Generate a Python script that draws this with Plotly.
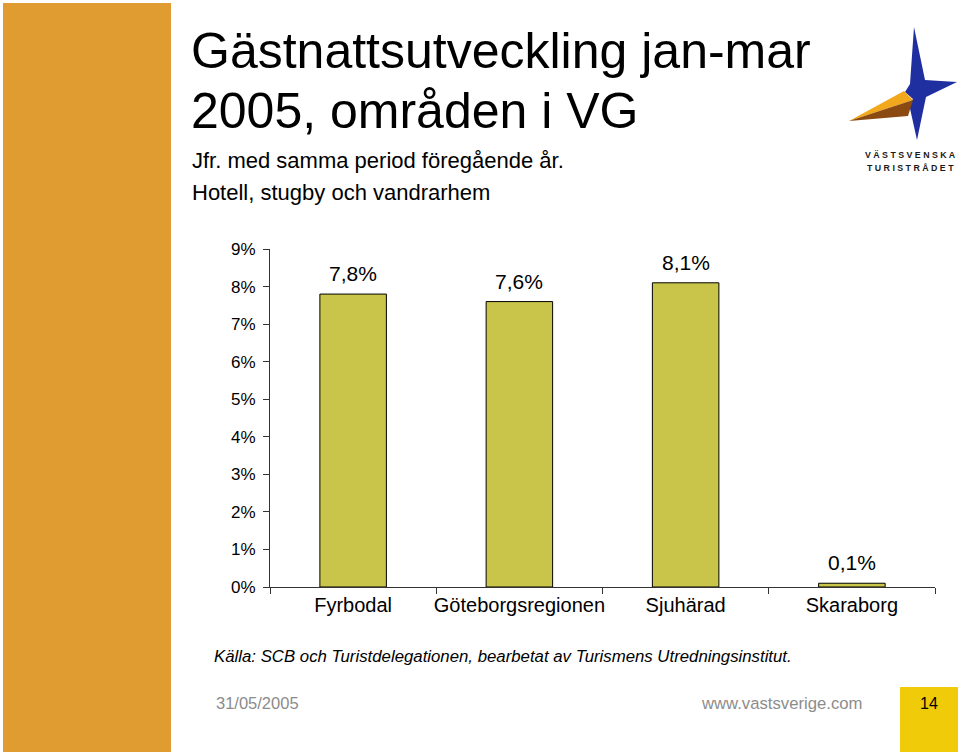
import plotly.graph_objects as go

# ---- data ----
categories = ["Fyrbodal", "Göteborgsregionen", "Sjuhärad", "Skaraborg"]
values = [7.8, 7.6, 8.1, 0.1]
y_ticks = [0, 1, 2, 3, 4, 5, 6, 7, 8, 9]
y_tick_text = [f"{t}%" for t in y_ticks]

title_lines = ["Gästnattsutveckling jan-mar", "2005, områden i VG"]
subtitle_lines = ["Jfr. med samma period föregående år.", "Hotell, stugby och vandrarhem"]
source_text = "Källa: SCB och Turistdelegationen, bearbetat av Turismens Utredningsinstitut."
footer_date = "31/05/2005"
footer_url = "www.vastsverige.com"
page_no = "14"

W, H = 960, 756
FONT = "Liberation Sans, Arial, sans-serif"


def px(x):
    return x / W


def py(y):
    return 1 - y / H


fig = go.Figure()
fig.add_trace(go.Bar(
    x=categories, y=values, width=0.4,
    marker=dict(color="#C9C54B", line=dict(color="#000000", width=1)),
    hoverinfo="skip",
))

# data labels derived from the values
for c, v in zip(categories, values):
    fig.add_annotation(
        x=c, y=v, xref="x", yref="y", yanchor="bottom", yshift=7,
        text=f"{v:.1f}".replace(".", ",") + "%", showarrow=False,
        font=dict(family=FONT, size=21, color="#000000"),
    )

shapes = []
# left orange band
shapes.append(dict(type="rect", xref="paper", yref="paper",
                   x0=px(3), x1=px(171), y0=py(752), y1=py(3),
                   fillcolor="#E09C30", line=dict(width=0), layer="below"))
# page number box
shapes.append(dict(type="rect", xref="paper", yref="paper",
                   x0=px(900), x1=px(958), y0=py(752), y1=py(687),
                   fillcolor="#F0CB0A", line=dict(width=0), layer="below"))


def path(points):
    return "M " + " L ".join(f"{px(a):.5f},{py(b):.5f}" for a, b in points) + " Z"


# logo: blue star
shapes.append(dict(type="path", xref="paper", yref="paper",
                   path=path([(914, 27), (925, 80), (957, 82), (926, 97),
                              (917, 140), (909, 104), (913, 99), (905, 92), (910, 84)]),
                   fillcolor="#1F2FA0", line=dict(width=0)))
# logo: orange beak
shapes.append(dict(type="path", xref="paper", yref="paper",
                   path=path([(849, 121), (904, 91), (913, 100)]),
                   fillcolor="#F2A81C", line=dict(width=0)))
# logo: brown beak
shapes.append(dict(type="path", xref="paper", yref="paper",
                   path=path([(849, 121), (913, 100), (908, 116)]),
                   fillcolor="#8A4A12", line=dict(width=0)))

annotations = [
    dict(x=px(189), y=py(51), xanchor="left", yanchor="middle",
         text=title_lines[0], font=dict(family=FONT, size=50, color="#000")),
    dict(x=px(189), y=py(111), xanchor="left", yanchor="middle",
         text=title_lines[1], font=dict(family=FONT, size=50, color="#000")),
    dict(x=px(190), y=py(160), xanchor="left", yanchor="middle",
         text=subtitle_lines[0], font=dict(family=FONT, size=22, color="#000")),
    dict(x=px(190), y=py(192), xanchor="left", yanchor="middle",
         text=subtitle_lines[1], font=dict(family=FONT, size=22, color="#000")),
    dict(x=px(212), y=py(656), xanchor="left", yanchor="middle",
         text=f"<i>{source_text}</i>", font=dict(family=FONT, size=16.8, color="#000")),
    dict(x=px(214), y=py(703), xanchor="left", yanchor="middle",
         text=footer_date, font=dict(family=FONT, size=16.5, color="#8C8C8C")),
    dict(x=px(864), y=py(703), xanchor="right", yanchor="middle",
         text=footer_url, font=dict(family=FONT, size=16.7, color="#8C8C8C")),
    dict(x=px(929), y=py(703), xanchor="center", yanchor="middle",
         text=page_no, font=dict(family=FONT, size=16, color="#000")),
    dict(x=px(910), y=py(155), xanchor="center", yanchor="middle",
         text="<b>V Ä S T S V E N S K A</b>", font=dict(family=FONT, size=8.8, color="#1a1a1a")),
    dict(x=px(910), y=py(168), xanchor="center", yanchor="middle",
         text="<b>T U R I S T R Å D E T</b>", font=dict(family=FONT, size=8.8, color="#1a1a1a")),
]
for a in annotations:
    a.update(xref="paper", yref="paper", showarrow=False)

fig.update_layout(
    width=W, height=H,
    margin=dict(l=0, r=0, t=0, b=0, pad=0),
    paper_bgcolor="white", plot_bgcolor="white",
    showlegend=False,
    shapes=shapes,
    annotations=list(fig.layout.annotations) + annotations,
    xaxis=dict(domain=[px(270), px(935)], showgrid=False, zeroline=False, automargin=False,
               showline=True, linecolor="#333333", linewidth=1, tickangle=0,
               ticks="outside", ticklen=6, tickcolor="#333333", tickson="boundaries",
               tickfont=dict(family=FONT, size=20, color="#000")),
    yaxis=dict(domain=[py(587), py(249)], range=[0, 9], showgrid=False, zeroline=False,
               automargin=False, ticklabelstandoff=4,
               tickmode="array", tickvals=y_ticks, ticktext=y_tick_text,
               showline=True, linecolor="#333333", linewidth=1,
               ticks="outside", ticklen=6, tickcolor="#333333",
               tickfont=dict(family=FONT, size=17, color="#000")),
)

fig.write_html(
    "out.html",
    config={"displayModeBar": False},
    post_script="document.body.style.margin='0';document.body.style.overflow='hidden';",
)
